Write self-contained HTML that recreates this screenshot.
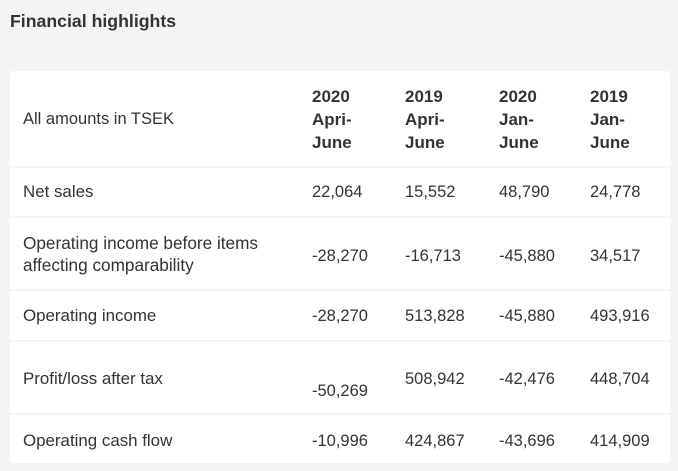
<!DOCTYPE html>
<html>
<head>
<meta charset="utf-8">
<style>
  html, body { margin:0; padding:0; }
  body {
    width:678px; height:471px; overflow:hidden;
    background:#f4f4f4;
    font-family:"Liberation Sans", sans-serif;
    color:#333;
    position:relative;
  }
  .t { position:absolute; white-space:nowrap; }
  .title { left:10px; top:11px; font-size:17.7px; line-height:20px; font-weight:bold; color:#333; }
  .row { position:absolute; left:10px; width:660px; background:#fff; }
  .b { font-size:16.5px; line-height:20px; }
  .l { font-size:16.9px; line-height:20px; }
  .h { font-size:17px; line-height:23px; font-weight:bold; }
</style>
</head>
<body>
  <div class="t title">Financial highlights</div>

  <!-- row backgrounds -->
  <div class="row" style="top:71px;height:95px;border-radius:3px 3px 0 0;"></div>
  <div class="row" style="top:168px;height:48px;"></div>
  <div class="row" style="top:218px;height:71px;"></div>
  <div class="row" style="top:291px;height:49px;"></div>
  <div class="row" style="top:342px;height:71px;"></div>
  <div class="row" style="top:415px;height:48px;border-radius:0 0 3px 3px;"></div>

  <!-- header -->
  <div class="t b" style="left:23px;top:109px;">All amounts in TSEK</div>
  <div class="t h" style="left:312px;top:85px;">2020<br>Apri-<br>June</div>
  <div class="t h" style="left:405px;top:85px;">2019<br>Apri-<br>June</div>
  <div class="t h" style="left:499px;top:85px;">2020<br>Jan-<br>June</div>
  <div class="t h" style="left:590px;top:85px;">2019<br>Jan-<br>June</div>

  <!-- Net sales -->
  <div class="t l" style="left:23px;top:182px;">Net sales</div>
  <div class="t b" style="left:312px;top:182px;">22,064</div>
  <div class="t b" style="left:405px;top:182px;">15,552</div>
  <div class="t b" style="left:499px;top:182px;">48,790</div>
  <div class="t b" style="left:590px;top:182px;">24,778</div>

  <!-- OIBIAC -->
  <div class="t l" style="left:23px;top:232px;line-height:22px;font-size:17.2px;">Operating income before items<br>affecting comparability</div>
  <div class="t b" style="left:312px;top:246px;">-28,270</div>
  <div class="t b" style="left:405px;top:246px;">-16,713</div>
  <div class="t b" style="left:499px;top:246px;">-45,880</div>
  <div class="t b" style="left:590px;top:246px;">34,517</div>

  <!-- Operating income -->
  <div class="t l" style="left:23px;top:306px;">Operating income</div>
  <div class="t b" style="left:312px;top:306px;">-28,270</div>
  <div class="t b" style="left:405px;top:306px;">513,828</div>
  <div class="t b" style="left:499px;top:306px;">-45,880</div>
  <div class="t b" style="left:590px;top:306px;">493,916</div>

  <!-- Profit/loss -->
  <div class="t l" style="left:23px;top:369px;">Profit/loss after tax</div>
  <div class="t b" style="left:312px;top:381px;">-50,269</div>
  <div class="t b" style="left:405px;top:369px;">508,942</div>
  <div class="t b" style="left:499px;top:369px;">-42,476</div>
  <div class="t b" style="left:590px;top:369px;">448,704</div>

  <!-- Operating cash flow -->
  <div class="t l" style="left:23px;top:431px;">Operating cash flow</div>
  <div class="t b" style="left:312px;top:431px;">-10,996</div>
  <div class="t b" style="left:405px;top:431px;">424,867</div>
  <div class="t b" style="left:499px;top:431px;">-43,696</div>
  <div class="t b" style="left:590px;top:431px;">414,909</div>
</body>
</html>
